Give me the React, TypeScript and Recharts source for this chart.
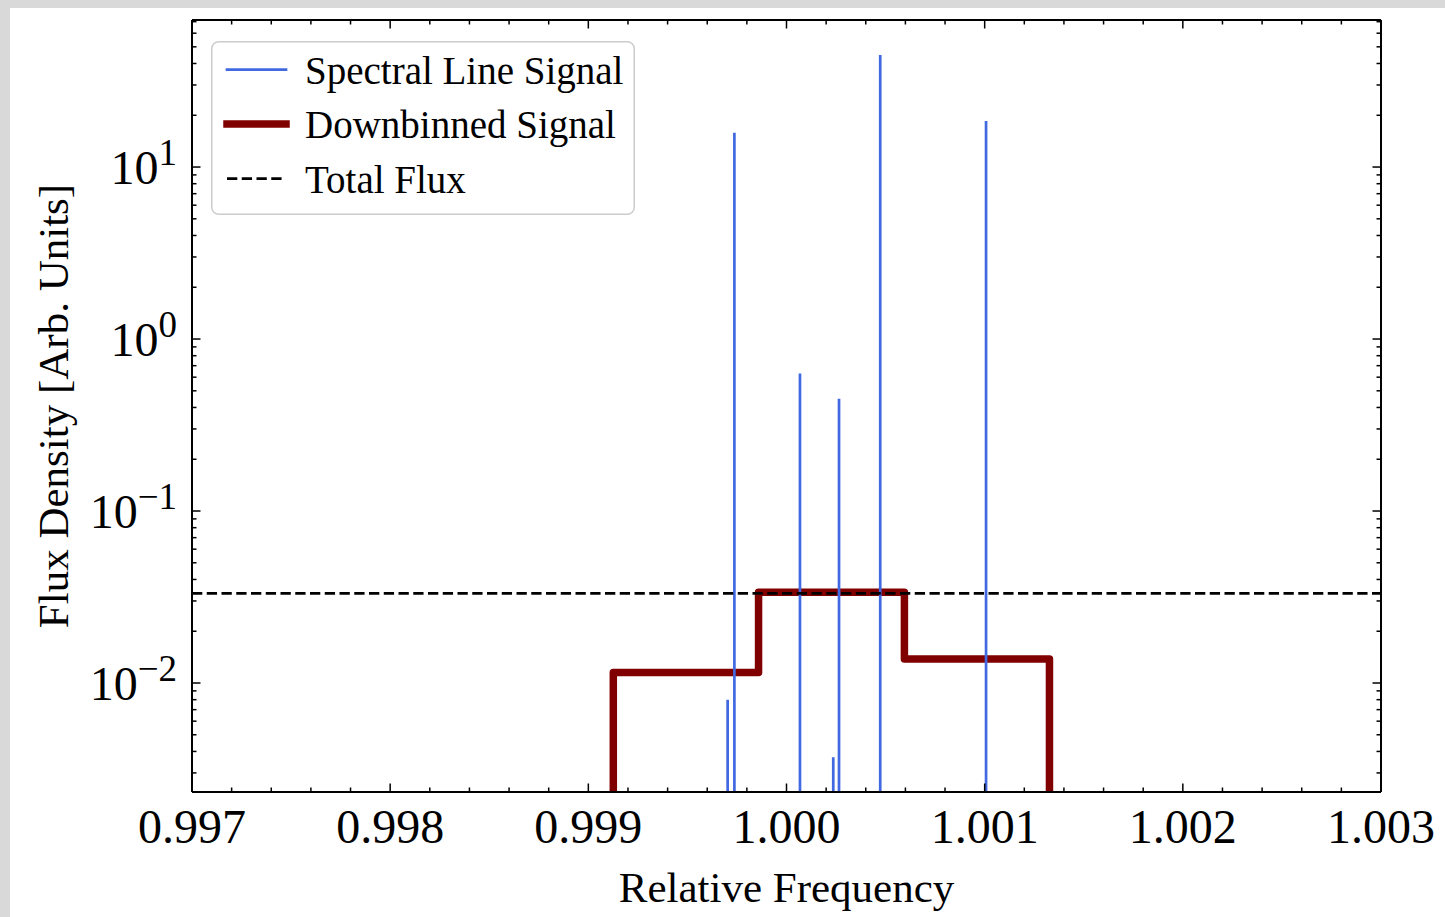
import React from "react";
import { LineChart, Line, XAxis, YAxis, Legend } from "recharts";

// spectral lines: centre frequency and peak flux
const lineFreqs = [0.999703, 0.999737, 1.000068, 1.000236, 1.000265, 1.000473, 1.001007];
const linePeaks = [0.008, 15.8, 0.63, 0.0037, 0.45, 44.8, 18.5];

// downbinned signal: bin edges and values per bin
const binEdges = [0.999126, 0.999859, 1.000595, 1.001327];
const binValues = [0.0115, 0.0337, 0.0138];

const totalFlux = 0.0332;

const xTicks = [0.997, 0.998, 0.999, 1.0, 1.001, 1.002, 1.003];
const xTickLabels = ["0.997", "0.998", "0.999", "1.000", "1.001", "1.002", "1.003"];
const yTicks = [0.01, 0.1, 1, 10];
const yTickExponents = ["\u22122", "\u22121", "0", "1"];

const X_DOMAIN: [number, number] = [0.997, 1.003];
const Y_DOMAIN: [number, number] = [0.002324, 71.6];
const FLOOR = 1e-6; // below the axis, gets clipped

const FONT = '"Liberation Serif", "DejaVu Serif", serif';
const W = 1435;
const H = 909;
const PLOT = { left: 182, top: 12, right: 1371, bottom: 784 };
const Y_AXIS_W = 170;
const X_AXIS_H = 120;
const TWIN = 1; // size of the top / right frame axes (0 would not be drawn)

const BLUE = "#4169e1";
const MAROON = "#800000";

const series = {
  spectral: { name: "Spectral Line Signal", color: BLUE, width: 2.7, dash: undefined as string | undefined, cap: "square" },
  binned: { name: "Downbinned Signal", color: MAROON, width: 7.5, dash: undefined as string | undefined, cap: "square" },
  total: { name: "Total Flux", color: "#000000", width: 2.7, dash: "10.3 4.45", cap: "butt" },
};

const spectrum = lineFreqs.flatMap((f, i) => [
  { x: f, y: FLOOR },
  { x: f, y: linePeaks[i] },
  { x: f, y: FLOOR },
]);

const downbinned = [
  { x: binEdges[0], y: FLOOR },
  ...binValues.map((v, i) => ({ x: binEdges[i], y: v })),
  { x: binEdges[binEdges.length - 1], y: binValues[binValues.length - 1] },
  { x: binEdges[binEdges.length - 1], y: FLOOR },
];

const totalLine = X_DOMAIN.map((x) => ({ x, y: totalFlux }));

// minor ticks
const xMinor = xTicks
  .slice(0, -1)
  .flatMap((t) => [1, 2, 3, 4].map((k) => +(t + k * 0.0002).toFixed(4)));
const yMinor = [0.001, 0.01, 0.1, 1, 10]
  .flatMap((d) => [2, 3, 4, 5, 6, 7, 8, 9].map((k) => +(d * k).toPrecision(3)))
  .filter((v) => v > Y_DOMAIN[0] && v < Y_DOMAIN[1]);
const xAllTicks = [...xTicks, ...xMinor].sort((a, b) => a - b);
const yAllTicks = [...yTicks, ...yMinor].sort((a, b) => a - b);

const MAJOR_LEN = 8.5;
const MINOR_LEN = 4.5;
const majorIndex = (v: number, majors: number[]) =>
  majors.findIndex((m) => Math.abs(m - v) < 1e-9);

function BottomTick({ x, y, payload }: any) {
  const i = majorIndex(payload.value, xTicks);
  const len = i >= 0 ? MAJOR_LEN : MINOR_LEN;
  return (
    <g>
      <line x1={x} x2={x} y1={y} y2={y - len} stroke="#000" strokeWidth={1.5} />
      {i >= 0 && (
        <text x={x} y={y + 51} textAnchor="middle" fontFamily={FONT} fontSize={48} fill="#000">
          {xTickLabels[i]}
        </text>
      )}
    </g>
  );
}

function TopTick({ x, y, payload }: any) {
  const len = majorIndex(payload.value, xTicks) >= 0 ? MAJOR_LEN : MINOR_LEN;
  return <line x1={x} x2={x} y1={y} y2={y + len} stroke="#000" strokeWidth={1.5} />;
}

function LeftTick({ x, y, payload }: any) {
  const i = majorIndex(payload.value, yTicks);
  const len = i >= 0 ? MAJOR_LEN : MINOR_LEN;
  return (
    <g>
      <line x1={x} x2={x + len} y1={y} y2={y} stroke="#000" strokeWidth={1.5} />
      {i >= 0 && (
        <text x={x - 15} y={y + 17} textAnchor="end" fontFamily={FONT} fontSize={48} fill="#000">
          <tspan>10</tspan>
          <tspan dy={-19} fontSize={37}>
            {yTickExponents[i]}
          </tspan>
        </text>
      )}
    </g>
  );
}

function RightTick({ x, y, payload }: any) {
  const len = majorIndex(payload.value, yTicks) >= 0 ? MAJOR_LEN : MINOR_LEN;
  return <line x1={x} x2={x - len} y1={y} y2={y} stroke="#000" strokeWidth={1.5} />;
}

function XTitle({ viewBox }: any) {
  const vb = viewBox || { x: PLOT.left, y: PLOT.bottom, width: PLOT.right - PLOT.left };
  return (
    <text x={vb.x + vb.width / 2} y={vb.y + 110} textAnchor="middle" fontFamily={FONT} fontSize={43} fill="#000">
      Relative Frequency
    </text>
  );
}

function YTitle({ viewBox }: any) {
  const vb = viewBox || { x: PLOT.left - Y_AXIS_W, y: PLOT.top, width: Y_AXIS_W, height: PLOT.bottom - PLOT.top };
  const cx = vb.x + vb.width - 124;
  const cy = vb.y + vb.height / 2;
  return (
    <text
      x={cx}
      y={cy}
      transform={`rotate(-90, ${cx}, ${cy})`}
      textAnchor="middle"
      fontFamily={FONT}
      fontSize={43}
      fill="#000"
    >
      Flux Density [Arb. Units]
    </text>
  );
}

const legendItems = [series.spectral, series.binned, series.total];

function LegendBox() {
  return (
    <svg width={424} height={174} style={{ display: "block" }}>
      <rect
        x={0.75}
        y={0.75}
        width={422.5}
        height={172.5}
        rx={7}
        fill="#fff"
        fillOpacity={0.8}
        stroke="#cccccc"
        strokeWidth={1.5}
      />
      {legendItems.map((s, i) => {
        const cy = 28.6 + i * 54.5;
        return (
          <g key={s.name}>
            <line
              x1={16}
              x2={75}
              y1={cy}
              y2={cy}
              stroke={s.color}
              strokeWidth={s.width}
              strokeDasharray={s.dash}
              strokeLinecap={s.cap as any}
            />
            <text x={94} y={cy + 14} fontFamily={FONT} fontSize={39} fill="#000">
              {s.name}
            </text>
          </g>
        );
      })}
    </svg>
  );
}

export default function App() {
  return (
    <div style={{ position: "fixed", inset: 0, background: "#d9d9d9" }}>
      <div style={{ position: "absolute", left: 10, top: 8, width: W, height: H, background: "#fff" }}>
        <LineChart
          width={W}
          height={H}
          margin={{
            top: PLOT.top - TWIN,
            right: W - PLOT.right - TWIN,
            left: PLOT.left - Y_AXIS_W,
            bottom: H - PLOT.bottom - X_AXIS_H,
          }}
        >
          <XAxis
            dataKey="x"
            type="number"
            domain={X_DOMAIN}
            allowDataOverflow
            ticks={xAllTicks}
            interval={0}
            tick={<BottomTick />}
            tickLine={false}
            tickSize={0}
            tickMargin={0}
            height={X_AXIS_H}
            axisLine={{ stroke: "#000", strokeWidth: 2 }}
            label={(p: any) => <XTitle viewBox={p.viewBox} />}
          />
          <XAxis
            xAxisId="top"
            orientation="top"
            dataKey="x"
            type="number"
            domain={X_DOMAIN}
            allowDataOverflow
            ticks={xAllTicks}
            interval={0}
            tick={<TopTick />}
            tickLine={false}
            tickSize={0}
            tickMargin={0}
            height={TWIN}
            axisLine={{ stroke: "#000", strokeWidth: 2 }}
          />
          <YAxis
            dataKey="y"
            type="number"
            scale="log"
            domain={Y_DOMAIN}
            allowDataOverflow
            ticks={yAllTicks}
            interval={0}
            tick={<LeftTick />}
            tickLine={false}
            tickSize={0}
            tickMargin={0}
            width={Y_AXIS_W}
            axisLine={{ stroke: "#000", strokeWidth: 2 }}
            label={(p: any) => <YTitle viewBox={p.viewBox} />}
          />
          <YAxis
            yAxisId="right"
            orientation="right"
            dataKey="y"
            type="number"
            scale="log"
            domain={Y_DOMAIN}
            allowDataOverflow
            ticks={yAllTicks}
            interval={0}
            tick={<RightTick />}
            tickLine={false}
            tickSize={0}
            tickMargin={0}
            width={TWIN}
            axisLine={{ stroke: "#000", strokeWidth: 2 }}
          />
          <Line
            data={downbinned}
            dataKey="y"
            name={series.binned.name}
            type="stepAfter"
            stroke={series.binned.color}
            strokeWidth={series.binned.width}
            strokeLinejoin="round"
            dot={false}
            activeDot={false}
            isAnimationActive={false}
          />
          <Line
            data={spectrum}
            dataKey="y"
            name={series.spectral.name}
            type="linear"
            stroke={series.spectral.color}
            strokeWidth={series.spectral.width}
            dot={false}
            activeDot={false}
            isAnimationActive={false}
          />
          <Line
            data={totalLine}
            dataKey="y"
            name={series.total.name}
            type="linear"
            stroke={series.total.color}
            strokeWidth={series.total.width}
            strokeDasharray={series.total.dash}
            dot={false}
            activeDot={false}
            isAnimationActive={false}
          />
          {/* invisible twin so the top and right frame axes get a series */}
          <Line
            data={totalLine}
            dataKey="y"
            xAxisId="top"
            yAxisId="right"
            stroke="none"
            legendType="none"
            dot={false}
            activeDot={false}
            isAnimationActive={false}
          />
          <Legend
            content={<LegendBox />}
            layout="vertical"
            align="center"
            verticalAlign="middle"
            wrapperStyle={{ left: 201, top: 33, width: 424, height: 174 }}
          />
        </LineChart>
      </div>
    </div>
  );
}
